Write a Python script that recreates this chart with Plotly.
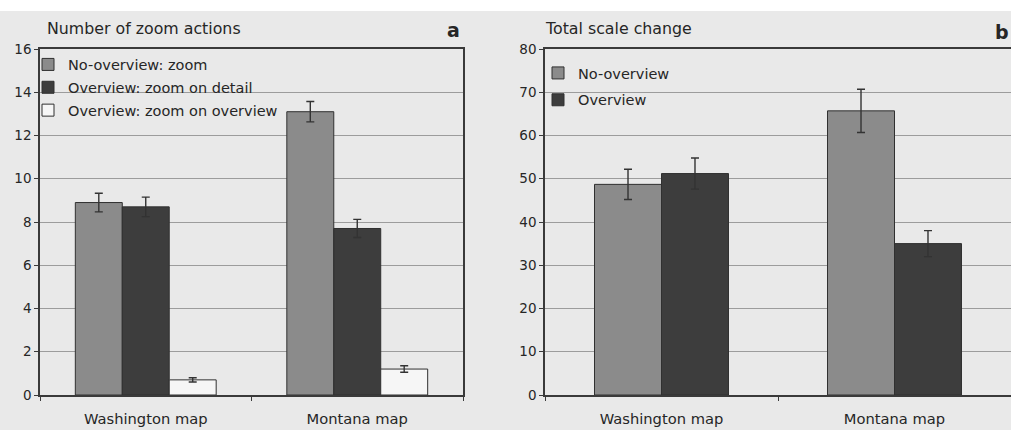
import plotly.graph_objects as go

W, H = 1011, 430

# ---- data -------------------------------------------------------------
maps = ["Washington map", "Montana map"]

# panel a: number of zoom actions
zoom_no_overview = [8.9, 13.1]
zoom_no_overview_err = [0.43, 0.47]
zoom_ov_detail = [8.7, 7.7]
zoom_ov_detail_err = [0.45, 0.42]
zoom_ov_overview = [0.7, 1.2]
zoom_ov_overview_err = [0.1, 0.15]

# panel b: total scale change
scale_no_overview = [48.7, 65.7]
scale_no_overview_err = [3.5, 5.0]
scale_overview = [51.2, 35.0]
scale_overview_err = [3.6, 3.0]

a_ticks = [0, 2, 4, 6, 8, 10, 12, 14, 16]
b_ticks = [0, 10, 20, 30, 40, 50, 60, 70, 80]

# ---- style ------------------------------------------------------------
FONT = "DejaVu Sans, Verdana, sans-serif"
INK = "#262626"
BG = "#e9e9e9"
GRID = "#9c9c9c"
C_MID = "#8b8b8b"
C_DARK = "#3d3d3d"
C_WHITE = "#f6f6f6"


def px_x(p):
    return p / W


def px_y(p):
    return 1 - p / H


def err(vals):
    return dict(type="data", array=vals, visible=True, color="#333333",
                thickness=1.4, width=4)


fig = go.Figure()

# panel a bars (three per map)
wa = 0.222
series_a = [
    ("No-overview: zoom", zoom_no_overview, zoom_no_overview_err, C_MID),
    ("Overview: zoom on detail", zoom_ov_detail, zoom_ov_detail_err, C_DARK),
    ("Overview: zoom on overview", zoom_ov_overview, zoom_ov_overview_err, C_WHITE),
]
for i, (name, vals, e, col) in enumerate(series_a):
    fig.add_trace(go.Bar(
        x=maps, y=vals, name=name, error_y=err(e),
        width=wa, offset=-1.5 * wa + i * wa,
        marker=dict(color=col, line=dict(color="#303030", width=1)),
        xaxis="x", yaxis="y", legend="legend", legendgroup=name,
    ))

# panel b bars (two per map)
wb = 0.2875
series_b = [
    ("No-overview", scale_no_overview, scale_no_overview_err, C_MID),
    ("Overview", scale_overview, scale_overview_err, C_DARK),
]
for i, (name, vals, e, col) in enumerate(series_b):
    fig.add_trace(go.Bar(
        x=maps, y=vals, name=name, error_y=err(e),
        width=wb, offset=-wb + i * wb,
        marker=dict(color=col, line=dict(color="#303030", width=1)),
        xaxis="x2", yaxis="y2", legend="legend2", legendgroup=name,
    ))

axis_common = dict(
    showline=True, linecolor="#3a3a3a", linewidth=1.5, mirror=True,
    zeroline=False, automargin=False,
)
xfont = dict(family=FONT, size=14.7, color=INK)
yfont = dict(family=FONT, size=13.5, color=INK)
lfont = dict(family=FONT, size=14.5, color=INK)

y_dom = [px_y(395), px_y(49)]

fig.update_layout(
    width=W, height=H,
    margin=dict(l=0, r=0, t=0, b=0, autoexpand=False),
    paper_bgcolor=BG, plot_bgcolor=BG,
    showlegend=True,
    font=dict(family=FONT, color=INK, size=13),
    xaxis=dict(domain=[px_x(40), px_x(463)], anchor="y", ticks="outside",
               tickson="boundaries", ticklen=4, tickcolor="#3a3a3a",
               ticklabelstandoff=10, showgrid=False, tickfont=xfont,
               **axis_common),
    yaxis=dict(domain=y_dom, anchor="x", range=[0, 16], tickvals=a_ticks,
               ticks="outside", ticklen=4, tickcolor="#3a3a3a",
               showgrid=True, gridcolor=GRID, gridwidth=1, tickfont=yfont,
               **axis_common),
    xaxis2=dict(domain=[px_x(545), 1.0], anchor="y2", ticks="outside",
                tickson="boundaries", ticklen=4, tickcolor="#3a3a3a",
                ticklabelstandoff=10, showgrid=False, tickfont=xfont,
                **axis_common),
    yaxis2=dict(domain=y_dom, anchor="x2", range=[0, 80], tickvals=b_ticks,
                ticks="outside", ticklen=4, tickcolor="#3a3a3a",
                showgrid=True, gridcolor=GRID, gridwidth=1, tickfont=yfont,
                **axis_common),
    legend=dict(x=px_x(28), y=px_y(48.5), xanchor="left", yanchor="top",
                bgcolor="rgba(0,0,0,0)", traceorder="grouped",
                tracegroupgap=1, font=lfont),
    legend2=dict(x=px_x(538), y=px_y(57), xanchor="left", yanchor="top",
                 bgcolor="rgba(0,0,0,0)", traceorder="grouped",
                 tracegroupgap=5, font=lfont),
)

# white strip along the top edge of the page
fig.add_shape(type="rect", xref="paper", yref="paper", x0=0, x1=1,
              y0=px_y(11), y1=1, fillcolor="white", line_width=0, layer="above")

# panel titles and letters
texts = [
    ("Number of zoom actions", 45, 28, 15.8, False, "left"),
    ("a", 462, 30, 19, True, "right"),
    ("Total scale change", 543, 28, 15.8, False, "left"),
    ("b", 1011, 32, 19, True, "right"),
]
for t, x, y, s, bold, anchor in texts:
    fig.add_annotation(
        text=f"<b>{t}</b>" if bold else t, xref="paper", yref="paper",
        x=px_x(x), y=px_y(y), xanchor=anchor, yanchor="middle",
        showarrow=False, font=dict(family=FONT, size=s, color=INK),
    )

fig.write_html("out.html")
